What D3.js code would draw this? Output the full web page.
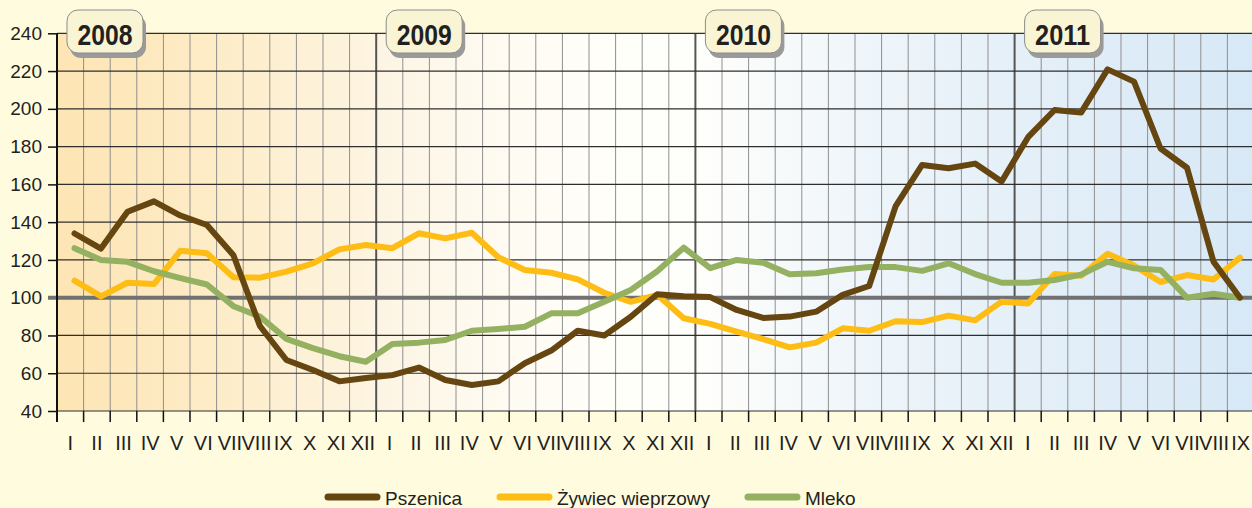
<!DOCTYPE html>
<html>
<head>
<meta charset="utf-8">
<script src="https://cdnjs.cloudflare.com/ajax/libs/d3/7.8.5/d3.min.js"></script>
<style>
  body { margin: 0; background: #fffbdf; }
  svg { display: block; }
</style>
</head>
<body>
<script>
'use strict';

// chart data
const years = ['2008', '2009', '2010', '2011'];
const monthNames = ['I', 'II', 'III', 'IV', 'V', 'VI', 'VII', 'VIII', 'IX', 'X', 'XI', 'XII'];
const monthsIn2011 = 9;
const yTicks = [40, 60, 80, 100, 120, 140, 160, 180, 200, 220, 240];

const pszenica = [
  134, 126, 145.5, 151, 143.5, 138.5, 122.5, 85, 67, 61.7, 55.7, 57.5,
  59, 63, 56.4, 53.8, 55.7, 65.3, 72, 82.5, 80, 89.9, 101.8, 100.8,
  100.3, 93.5, 89.3, 90, 92.6, 101.5, 106.2, 148.5, 170.3, 168.5, 171, 161.5,
  185, 199.4, 198, 220.9, 214.4, 179, 168.8, 119, 100
];
const zywiec = [
  109, 100.7, 107.9, 107.2, 124.9, 123.5, 110.8, 110.6, 113.8, 118.2, 125.6, 127.9,
  126.2, 134.1, 131.4, 134.4, 121.4, 114.7, 113.2, 109.7, 102.6, 97.8, 101.5, 89.1,
  86.1, 82, 78, 73.7, 76.2, 83.8, 82.5, 87.5, 87.1, 90.5, 88, 97.9,
  96.9, 112.5, 111.6, 123.3, 117, 108.3, 112, 109.6, 121.2
];
const mleko = [
  126.2, 120, 119, 114, 110.4, 107, 95.5, 90, 78.2, 73.3, 69, 66.1,
  75.5, 76.2, 77.6, 82.5, 83.4, 84.6, 91.7, 91.7, 97.9, 104.1, 114, 126.5,
  115.6, 120, 118.5, 112.4, 112.9, 114.9, 116.2, 116.2, 114.2, 118.2, 112.5, 107.9,
  107.9, 109.4, 112.2, 119, 115.6, 114.7, 100, 102.1, 100
];

const seriesNames = ['Pszenica', 'Żywiec wieprzowy', 'Mleko'];
const seriesColors = ['#654510', '#fdbd14', '#94b161'];

(function() {

  let svgContainer = "";

  window.onload = function() {
    svgContainer = d3.select('body')
      .append('svg')
      .attr('width', 1252)
      .attr('height', 508);
    makeChart();
  }

  function makeChart() {
    // month labels for every band, Jan 2008 .. Sep 2011
    let monthLabels = [];
    years.forEach((y, i) => {
      let n = (i == years.length - 1) ? monthsIn2011 : 12;
      for (let m = 0; m < n; m++) monthLabels.push(monthNames[m]);
    });
    let idx = d3.range(monthLabels.length);

    let left = 57, right = 1254, top = 33.3, bottom = 411;

    let xBand = d3.scaleBand().domain(idx).range([left, right]);
    let xPoint = d3.scalePoint().domain(idx).range([74.5, 1240]);
    let yScale = d3.scaleLinear().domain([40, 240]).range([bottom, top]);

    // background gradient of plot area
    let defs = svgContainer.append('defs');
    let grad = defs.append('linearGradient')
      .attr('id', 'bg')
      .attr('x1', 0).attr('x2', 1).attr('y1', 0).attr('y2', 0);
    [[0, '#fde5b4'], [0.13, '#fdecc7'], [0.27, '#fdf5e3'], [0.34, '#fef9ee'],
     [0.45, '#fffef9'], [0.54, '#fefefb'], [0.68, '#eef5fa'], [0.82, '#e4eff8'], [1, '#d7e8f6']]
      .forEach((s) => grad.append('stop').attr('offset', s[0]).attr('stop-color', s[1]));

    svgContainer.append('rect')
      .attr('x', left)
      .attr('y', top)
      .attr('width', right - left)
      .attr('height', bottom - top)
      .style('fill', 'url(#bg)');

    // vertical month grid lines
    svgContainer.append('g')
      .selectAll('line')
      .data(idx.slice(1))
      .enter()
      .append('line')
        .attr('x1', (d) => xBand(d))
        .attr('x2', (d) => xBand(d))
        .attr('y1', top)
        .attr('y2', bottom)
        .style('stroke', (d) => d % 12 == 0 ? '#555' : '#8f8f8f')
        .style('stroke-width', (d) => d % 12 == 0 ? 2 : 1);

    // horizontal grid lines
    svgContainer.append('g')
      .selectAll('line')
      .data(yTicks.filter((t) => t != 100))
      .enter()
      .append('line')
        .attr('x1', left)
        .attr('x2', right)
        .attr('y1', (d) => yScale(d))
        .attr('y2', (d) => yScale(d))
        .style('stroke', '#2e2e2e')
        .style('stroke-width', 1.2);

    // y axis
    let yAxis = d3.axisLeft(yScale).tickValues(yTicks).tickSize(9).tickPadding(6);
    let gy = svgContainer.append('g')
      .attr('transform', 'translate(' + left + ', 0)')
      .call(yAxis);
    gy.select('.domain').remove();
    gy.selectAll('line').style('stroke', '#111').style('stroke-width', 1.5);
    gy.selectAll('text')
      .style('font-family', 'Liberation Sans, Arial, sans-serif')
      .style('font-size', '19px')
      .style('fill', '#231f20');

    // reference line at 100
    svgContainer.append('line')
      .attr('x1', 48)
      .attr('x2', right)
      .attr('y1', yScale(100))
      .attr('y2', yScale(100))
      .style('stroke', '#717171')
      .style('stroke-width', 4);

    // left axis line
    svgContainer.append('line')
      .attr('x1', left).attr('x2', left)
      .attr('y1', top).attr('y2', bottom + 11)
      .style('stroke', '#111')
      .style('stroke-width', 2);

    // x ticks at band boundaries
    svgContainer.append('g')
      .selectAll('line')
      .data(idx.slice(1))
      .enter()
      .append('line')
        .attr('x1', (d) => xBand(d))
        .attr('x2', (d) => xBand(d))
        .attr('y1', bottom)
        .attr('y2', bottom + 11)
        .style('stroke', '#111')
        .style('stroke-width', 1.5);

    // x month labels
    let xAxis = d3.axisBottom(xBand).tickSize(0).tickPadding(25)
      .tickFormat((d) => monthLabels[d]);
    let gx = svgContainer.append('g')
      .attr('transform', 'translate(0, ' + bottom + ')')
      .call(xAxis);
    gx.select('.domain').remove();
    gx.selectAll('text')
      .style('font-family', 'Liberation Sans, Arial, sans-serif')
      .style('font-size', '20px')
      .style('fill', '#231f20');

    // data lines
    let allSeries = [pszenica, zywiec, mleko];
    let line = d3.line()
      .x((d, i) => xPoint(i))
      .y((d) => yScale(d));
    // draw order: yellow, green, brown on top
    [1, 2, 0].forEach((s) => {
      svgContainer.append('path')
        .datum(allSeries[s])
        .attr('d', line)
        .style('fill', 'none')
        .style('stroke', seriesColors[s])
        .style('stroke-width', 6)
        .style('stroke-linejoin', 'round')
        .style('stroke-linecap', 'round');
    });

    // year label boxes
    let yearG = svgContainer.append('g')
      .selectAll('g')
      .data(years)
      .enter()
      .append('g')
        .attr('transform', (d, i) => 'translate(' + (xBand(i * 12) + 10) + ', 10)');
    yearG.append('rect')
      .attr('x', 3).attr('y', 5)
      .attr('width', 76).attr('height', 43)
      .attr('rx', 11)
      .style('fill', '#9a9a9a');
    yearG.append('rect')
      .attr('width', 76).attr('height', 43)
      .attr('rx', 11)
      .style('fill', '#f8f4d4')
      .style('stroke', '#8c8c8c')
      .style('stroke-width', 1);
    yearG.append('text')
      .attr('x', 38)
      .attr('y', 35)
      .attr('text-anchor', 'middle')
      .attr('textLength', 55)
      .attr('lengthAdjust', 'spacingAndGlyphs')
      .style('font-family', 'Liberation Sans Narrow, Arial Narrow, Liberation Sans, Arial, sans-serif')
      .style('font-weight', 'bold')
      .style('font-size', '30px')
      .style('fill', '#231f20')
      .text((d) => d);

    makeLegend();
  }

  // legend below the chart
  function makeLegend() {
    let lineX = [328, 500, 748];
    let legend = svgContainer.append('g')
      .selectAll('g')
      .data(seriesNames)
      .enter()
      .append('g')
        .attr('transform', (d, i) => 'translate(' + lineX[i] + ', 497)');
    legend.append('line')
      .attr('x1', 0).attr('x2', 49)
      .style('stroke', (d, i) => seriesColors[i])
      .style('stroke-width', 7)
      .style('stroke-linecap', 'round');
    legend.append('text')
      .attr('x', 57)
      .attr('y', 8)
      .style('font-family', 'Liberation Sans, Arial, sans-serif')
      .style('font-size', '19px')
      .style('fill', '#231f20')
      .text((d) => d);
  }

})();
</script>
</body>
</html>
